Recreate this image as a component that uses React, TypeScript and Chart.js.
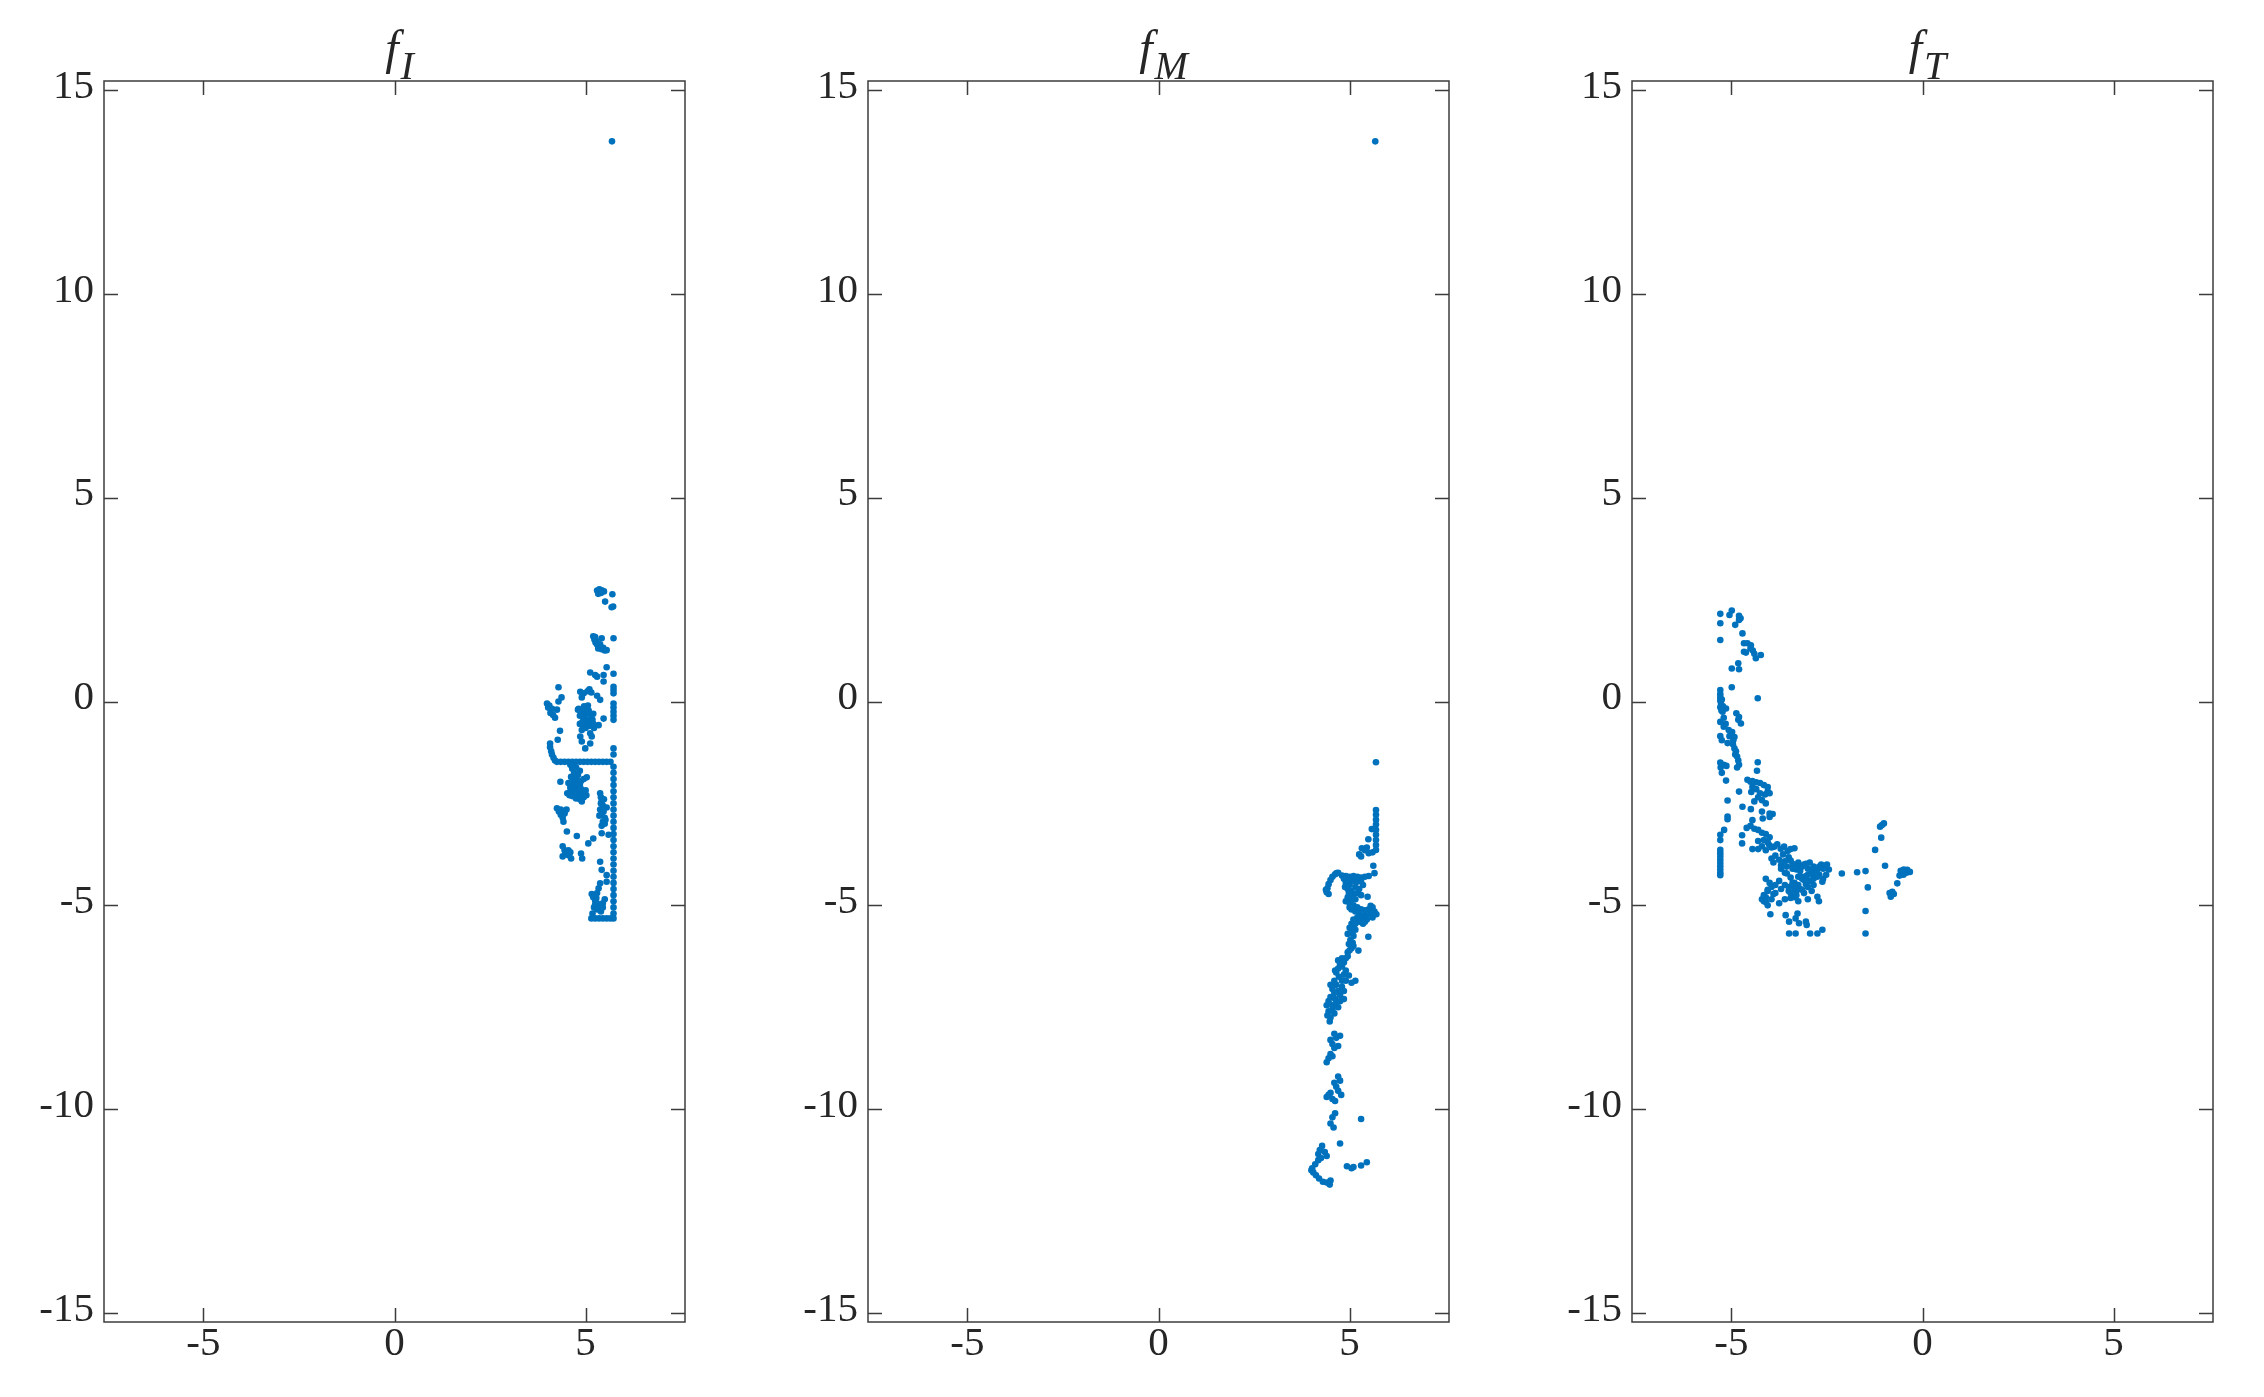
import React, { useEffect, useRef } from 'react';
import { Chart, registerables } from 'chart.js';

Chart.register(...registerables);

// ---------- data ----------
const panelTitles = ['f', 'f', 'f'];
const panelSubscripts = ['I', 'M', 'T'];
const xTickValues = [-5, 0, 5];
const yTickValues = [-15, -10, -5, 0, 5, 10, 15];
const xLimits = [-7.6, 7.6];
const yLimits = [-15.22, 15.22];

const fIPoints: [number, number][] = [
  [5.69, 13.74],
  [5.30, 2.72], [5.36, 2.75], [5.42, 2.73], [5.48, 2.70], [5.33, 2.64], [5.40, 2.66], [5.70, 2.63], [5.51, 2.45], [5.68, 2.31], [5.72, 2.33],
  [5.73, 1.55], [5.42, 1.55],
  [5.20, 1.60], [5.23, 1.52], [5.26, 1.45], [5.30, 1.40], [5.36, 1.35], [5.42, 1.28], [5.50, 1.25], [5.55, 1.26], [5.33, 1.30],
  [5.25, 1.58], [5.28, 1.48], [5.38, 1.40], [5.46, 1.32],
  [5.55, 0.84], [5.12, 0.71], [5.25, 0.65], [5.30, 0.61], [5.47, 0.65], [5.47, 0.49], [5.73, 0.68],
  [5.73, 0.36], [5.73, 0.28], [5.73, 0.20], [5.73, -0.05], [5.73, -0.15], [5.73, -0.25], [5.73, -0.35], [5.73, -0.45],
  [4.29, 0.35], [4.37, 0.10], [4.29, 0.00],
  [3.99, -0.05], [4.05, -0.10], [4.12, -0.18], [4.08, -0.28], [4.15, -0.33], [4.20, -0.40], [4.25, -0.20], [4.02, -0.15],
  [4.33, -0.72], [4.27, -0.94],
  [4.86, 0.24], [4.95, 0.20], [5.05, 0.25], [5.10, 0.30], [5.15, 0.22], [4.90, 0.10], [5.30, 0.14], [5.38, 0.04],
  [4.80, -0.20], [4.90, -0.22], [5.00, -0.25], [5.10, -0.30], [5.20, -0.30], [4.85, -0.35], [4.95, -0.40], [5.05, -0.45], [5.15, -0.40],
  [4.85, -0.55], [4.95, -0.60], [5.00, -0.65], [5.10, -0.60], [5.20, -0.55], [4.90, -0.70],
  [4.82, -0.18], [4.88, -0.28], [4.98, -0.32], [5.08, -0.22], [5.18, -0.45], [5.22, -0.65], [4.92, -0.50], [5.02, -0.55],
  [5.12, -0.50], [4.96, -0.12], [5.06, -0.10],
  [5.47, -0.42], [5.34, -0.58], [4.86, -0.86], [4.90, -0.98], [5.12, -0.78], [5.16, -0.86], [5.12, -1.03], [4.99, -1.15],
  [4.07, -1.03], [4.07, -1.12], [4.10, -1.22], [4.12, -1.30], [4.16, -1.38], [4.20, -1.45],
  [4.25, -1.48], [4.35, -1.48], [4.45, -1.48], [4.55, -1.48], [4.65, -1.48], [4.75, -1.48], [4.85, -1.48], [4.95, -1.48],
  [5.05, -1.48], [5.15, -1.48], [5.25, -1.48], [5.35, -1.48], [5.45, -1.48], [5.55, -1.48], [5.65, -1.48],
  [5.73, -1.15], [5.73, -1.30], [5.73, -1.60], [5.73, -1.75], [5.73, -1.90], [5.73, -2.05], [5.73, -2.20], [5.73, -2.35],
  [5.73, -2.50], [5.73, -2.65], [5.73, -2.80], [5.73, -2.95], [5.73, -3.10], [5.73, -3.25], [5.73, -3.40], [5.73, -3.55],
  [5.73, -3.70], [5.73, -3.85], [5.73, -4.00], [5.73, -4.15], [5.73, -4.30], [5.73, -4.45], [5.73, -4.60], [5.73, -4.75],
  [5.73, -4.90], [5.73, -5.05], [5.73, -5.20],
  [4.60, -1.55], [4.65, -1.65], [4.70, -1.75], [4.62, -1.85], [4.68, -1.95], [4.75, -2.00], [4.85, -2.05], [4.80, -1.80],
  [4.95, -1.90], [4.72, -2.10], [5.03, -1.86], [4.34, -1.97],
  [4.65, -1.58], [4.75, -1.62], [4.85, -1.70], [4.72, -1.88], [4.78, -1.95], [4.88, -1.95], [4.60, -2.05], [4.68, -2.15],
  [4.78, -2.18], [4.88, -2.15], [4.58, -2.30], [4.75, -2.38], [5.02, -2.30],
  [4.55, -2.00], [4.60, -2.12], [4.62, -2.22], [4.70, -2.25], [4.80, -2.30], [4.90, -2.25], [5.00, -2.18], [4.65, -2.32],
  [4.52, -2.25], [4.85, -2.40], [4.95, -2.35], [4.90, -2.45],
  [5.38, -2.25], [5.40, -2.35], [5.42, -2.45], [5.45, -2.55], [5.38, -2.65], [5.42, -2.75], [5.50, -2.85], [5.45, -2.95],
  [5.42, -3.05], [5.55, -2.60], [5.52, -2.90], [5.48, -2.40], [5.40, -2.50], [5.47, -2.70], [5.36, -2.80], [5.50, -3.00],
  [5.42, -3.23], [5.60, -3.27],
  [4.25, -2.62], [4.30, -2.70], [4.35, -2.78], [4.40, -2.85], [4.45, -2.75], [4.50, -2.65], [4.42, -2.95], [4.45, -2.70], [4.35, -2.65],
  [4.51, -3.19], [4.77, -3.30], [5.07, -3.48], [5.20, -3.36],
  [4.40, -3.55], [4.45, -3.65], [4.50, -3.75], [4.55, -3.65], [4.60, -3.70], [4.40, -3.80], [4.62, -3.85], [4.47, -3.70], [4.57, -3.78],
  [4.88, -3.73], [4.91, -3.85],
  [5.38, -3.93], [5.42, -4.13], [5.55, -4.26], [5.55, -4.42], [5.38, -4.46], [5.34, -4.58], [5.30, -4.70],
  [5.16, -4.72], [5.20, -4.80], [5.25, -4.88], [5.30, -4.95], [5.35, -5.00], [5.45, -4.95], [5.50, -4.85], [5.22, -5.05],
  [5.30, -5.10], [5.40, -5.15], [5.18, -5.20], [5.25, -4.98], [5.35, -5.08], [5.45, -5.05], [5.28, -4.82],
  [5.15, -5.32], [5.25, -5.32], [5.35, -5.32], [5.45, -5.32], [5.55, -5.32], [5.65, -5.32], [5.73, -5.32],
];

const fMPoints: [number, number][] = [
  [5.67, 13.74],
  [5.69, -1.49],
  [5.69, -2.66], [5.69, -2.78], [5.69, -2.90], [5.69, -3.02], [5.69, -3.15], [5.69, -3.27], [5.69, -3.40], [5.69, -3.52], [5.69, -3.64],
  [5.58, -3.13], [5.49, -3.38],
  [5.32, -3.60], [5.40, -3.65], [5.50, -3.72], [5.60, -3.70], [5.25, -3.75], [5.30, -3.80], [5.45, -3.58],
  [5.62, -4.03], [5.65, -4.21],
  [4.70, -4.20], [4.62, -4.24], [4.55, -4.30], [4.50, -4.38], [4.45, -4.48], [4.42, -4.58], [4.40, -4.68], [4.45, -4.72],
  [4.66, -4.21], [4.38, -4.62],
  [4.80, -4.27], [4.90, -4.28], [5.00, -4.30], [5.10, -4.28], [5.20, -4.30], [5.30, -4.32], [5.40, -4.30], [5.50, -4.28],
  [4.90, -4.45], [5.00, -4.50], [5.05, -4.40], [4.95, -4.60], [5.05, -4.65], [5.15, -4.55], [5.25, -4.60], [5.35, -4.50],
  [4.85, -4.35], [4.95, -4.38], [5.10, -4.40], [5.20, -4.42], [5.30, -4.40], [4.88, -4.55], [4.98, -4.70], [5.10, -4.72],
  [5.20, -4.70], [5.30, -4.75], [5.15, -4.85], [4.90, -4.90],
  [5.47, -4.79], [4.95, -4.80], [5.05, -4.85], [5.00, -4.95], [5.10, -5.00], [5.55, -5.01],
  [5.05, -5.10], [5.15, -5.15], [5.25, -5.20], [5.35, -5.25], [5.45, -5.25], [5.55, -5.20], [5.65, -5.15], [5.70, -5.22],
  [5.20, -5.30], [5.30, -5.35], [5.40, -5.40], [5.10, -5.35],
  [5.00, -5.05], [5.20, -5.05], [5.30, -5.10], [5.40, -5.12], [5.50, -5.10], [5.60, -5.05], [5.25, -5.40], [5.35, -5.45],
  [5.15, -5.45], [5.45, -5.35], [5.60, -5.30],
  [5.49, -5.77],
  [5.05, -5.45], [5.00, -5.55], [4.95, -5.70], [5.02, -5.85], [4.98, -5.95], [5.05, -6.05], [4.95, -6.15], [4.90, -6.30],
  [4.85, -6.40], [4.80, -6.50], [5.10, -5.75], [5.15, -5.60],
  [5.10, -5.50], [5.05, -5.65], [5.08, -5.92], [5.00, -6.10], [5.10, -6.00], [4.95, -6.25],
  [5.23, -6.11],
  [4.75, -6.45], [4.70, -6.55], [4.65, -6.65], [4.72, -6.75], [4.85, -6.70], [4.90, -6.60], [4.98, -6.72], [4.60, -6.85],
  [4.70, -6.35], [4.80, -6.30], [4.62, -6.60], [4.80, -6.85], [4.90, -6.85], [5.05, -6.90], [5.15, -6.85], [4.65, -6.95],
  [4.75, -7.20], [4.85, -7.10],
  [4.50, -6.95], [4.55, -7.05], [4.60, -7.15], [4.70, -7.10], [4.80, -7.00], [4.50, -7.25], [4.45, -7.35], [4.55, -7.45],
  [4.65, -7.40], [4.75, -7.35], [4.45, -7.60], [4.50, -7.75], [4.60, -7.65], [4.70, -7.50], [4.85, -7.30],
  [4.40, -7.45], [4.42, -7.70], [4.55, -7.55], [4.62, -7.30], [4.48, -7.85],
  [4.60, -8.15], [4.65, -8.25], [4.75, -8.20], [4.55, -8.40], [4.60, -8.50], [4.70, -8.45], [4.50, -8.65], [4.45, -8.75], [4.55, -8.70],
  [4.50, -8.30], [4.40, -8.85],
  [4.70, -9.20], [4.75, -9.30], [4.65, -9.45], [4.70, -9.55], [4.50, -9.60], [4.45, -9.65], [4.55, -9.75], [4.62, -9.80], [4.78, -9.65],
  [4.60, -9.35], [4.40, -9.70],
  [5.30, -10.24],
  [4.62, -10.10], [4.55, -10.20], [4.50, -10.35], [4.58, -10.45],
  [4.75, -10.84],
  [4.28, -10.90], [4.22, -11.00], [4.18, -11.10], [4.25, -11.20], [4.35, -11.05], [4.40, -11.15], [4.18, -11.25], [4.10, -11.35],
  [4.00, -11.50], [4.02, -11.45], [4.05, -11.55], [4.12, -11.62], [4.20, -11.70], [4.30, -11.78], [4.40, -11.80], [4.50, -11.75], [4.48, -11.85],
  [4.93, -11.40], [5.05, -11.45], [5.10, -11.42], [5.30, -11.38], [5.45, -11.30],
];

const fTPoints: [number, number][] = [
  [-5.29, 2.15], [-4.99, 2.23], [-5.05, 2.12], [-4.80, 2.10], [-4.76, 2.04], [-4.80, 2.00],
  [-5.29, 1.92], [-4.90, 1.88], [-4.71, 1.67], [-5.29, 1.51],
  [-4.67, 1.43], [-4.58, 1.43], [-4.49, 1.38], [-4.50, 1.30], [-4.44, 1.25], [-4.40, 1.17], [-4.62, 1.20], [-4.67, 1.22],
  [-4.36, 1.06], [-4.23, 1.14],
  [-4.82, 0.94], [-4.99, 0.81], [-4.80, 0.79],
  [-5.29, 0.28], [-4.99, 0.35], [-4.31, 0.08],
  [-5.29, 0.18], [-5.29, 0.10], [-5.29, 0.02], [-5.27, -0.06], [-5.29, -0.14], [-5.26, -0.22], [-5.23, -0.25], [-5.14, -0.17],
  [-5.25, 0.05], [-5.22, -0.12],
  [-4.87, -0.29], [-4.80, -0.38], [-4.75, -0.54], [-4.82, -0.45],
  [-5.29, -0.50], [-5.20, -0.62], [-5.07, -0.70], [-4.98, -0.75], [-4.92, -0.87], [-5.29, -0.85], [-5.25, -0.95], [-5.10, -1.02],
  [-4.96, -1.05], [-4.92, -1.15], [-4.88, -1.22], [-5.20, -0.40], [-5.15, -0.55], [-5.05, -0.85], [-4.95, -0.95], [-4.90, -1.30],
  [-5.29, -1.50], [-5.28, -1.62], [-5.20, -1.55], [-5.13, -1.58], [-5.25, -1.75],
  [-4.85, -1.35], [-4.82, -1.45], [-4.80, -1.55], [-4.85, -1.62],
  [-4.31, -1.49], [-4.33, -1.70], [-5.14, -1.94],
  [-4.58, -1.92], [-4.50, -1.97], [-4.45, -1.95], [-4.35, -1.98], [-4.25, -2.00], [-4.15, -2.05], [-4.05, -2.10], [-4.35, -2.15],
  [-4.25, -2.25], [-4.12, -2.28], [-4.05, -2.20], [-4.30, -2.35], [-4.20, -2.42], [-4.10, -2.50], [-4.00, -2.25], [-4.45, -2.10],
  [-4.40, -2.45], [-4.48, -2.22],
  [-4.80, -2.21], [-5.10, -2.43], [-4.71, -2.58], [-4.49, -2.64],
  [-5.10, -2.82], [-5.10, -2.89], [-4.45, -2.91], [-4.18, -2.87], [-4.00, -2.83], [-3.92, -2.76], [-4.20, -2.70], [-4.00, -2.75],
  [-5.29, -3.27], [-5.29, -3.40], [-5.19, -3.15],
  [-4.60, -3.10], [-4.50, -3.05], [-4.40, -3.12], [-4.30, -3.15], [-4.20, -3.22], [-4.10, -3.25], [-4.15, -3.40], [-4.30, -3.42],
  [-4.05, -3.45], [-4.00, -3.33],
  [-4.72, -3.28], [-4.72, -3.48],
  [-4.45, -3.62], [-4.30, -3.62], [-4.20, -3.55], [-4.10, -3.65], [-3.95, -3.58], [-4.01, -3.52],
  [-5.29, -3.64], [-5.29, -3.72], [-5.29, -3.80], [-5.29, -3.88], [-5.29, -3.96], [-5.29, -4.04], [-5.29, -4.12], [-5.29, -4.20], [-5.29, -4.26],
  [-3.88, -3.56], [-3.80, -3.50], [-3.71, -3.61], [-3.62, -3.56], [-3.53, -3.67], [-3.45, -3.62], [-3.35, -3.60],
  [-3.95, -3.85], [-3.85, -3.78], [-3.75, -3.88], [-3.65, -3.75], [-3.60, -3.92], [-3.50, -3.82], [-3.40, -3.98], [-3.30, -4.12],
  [-3.90, -3.95], [-3.70, -4.02], [-3.55, -4.05], [-3.45, -3.90], [-3.40, -4.10], [-3.30, -4.02], [-3.20, -4.15],
  [-3.25, -3.95], [-3.15, -4.05], [-3.05, -3.98], [-2.95, -3.95], [-2.85, -4.05], [-2.75, -4.12], [-2.65, -4.00], [-2.55, -4.05],
  [-2.45, -4.12], [-2.70, -4.25], [-2.85, -4.28], [-3.00, -4.25], [-3.10, -4.38], [-3.20, -4.28], [-2.62, -4.42], [-2.52, -4.25],
  [-3.10, -4.00], [-3.00, -4.10], [-2.90, -4.15], [-2.80, -4.20], [-2.70, -4.05], [-2.60, -4.10], [-2.50, -4.00],
  [-3.25, -4.30], [-3.15, -4.35], [-3.05, -4.28], [-2.95, -4.40], [-2.85, -4.35], [-2.75, -4.30], [-3.60, -4.20], [-3.70, -4.10],
  [-3.35, -4.45], [-2.60, -4.35],
  [-4.10, -4.35], [-4.00, -4.45], [-3.95, -4.55], [-4.05, -4.62], [-4.15, -4.75], [-4.20, -4.85], [-4.10, -4.92], [-3.90, -4.72],
  [-3.85, -4.50], [-3.75, -4.40],
  [-3.55, -4.22], [-3.45, -4.32], [-3.40, -4.45], [-3.35, -4.60], [-3.30, -4.75], [-3.45, -4.82], [-3.50, -4.65], [-3.25, -4.50],
  [-3.15, -4.62], [-3.05, -4.48],
  [-2.11, -4.22], [-1.71, -4.19], [-1.49, -4.16], [-1.43, -4.56], [-1.49, -5.14], [-1.49, -5.69],
  [-1.01, -2.99], [-1.06, -3.03], [-1.11, -3.07], [-1.08, -3.34], [-1.24, -3.64], [-0.98, -4.03],
  [-0.66, -4.46], [-0.79, -4.67], [-0.83, -4.79], [-0.75, -4.72], [-0.86, -4.70],
  [-0.57, -4.15], [-0.49, -4.12], [-0.40, -4.13], [-0.33, -4.18], [-0.50, -4.25], [-0.60, -4.27], [-0.42, -4.20],
  [-4.05, -4.65], [-4.10, -4.80], [-4.15, -4.90], [-4.05, -5.00], [-3.95, -4.85], [-3.85, -4.70], [-3.70, -4.60], [-3.60, -4.50],
  [-3.50, -4.55], [-3.45, -4.70], [-3.60, -4.85], [-3.75, -4.95], [-3.35, -4.80], [-3.25, -4.90], [-3.30, -4.65],
  [-3.40, -4.50], [-3.20, -4.60], [-3.10, -4.70], [-3.00, -4.55], [-2.90, -4.65], [-2.85, -4.50], [-3.00, -4.85],
  [-2.75, -4.79], [-2.71, -4.90],
  [-3.98, -5.22], [-3.58, -5.24], [-3.49, -5.40], [-3.27, -5.20], [-3.32, -5.32], [-3.23, -5.44], [-3.05, -5.40], [-3.03, -5.48],
  [-3.49, -5.69], [-3.32, -5.69], [-2.94, -5.69], [-2.75, -5.69], [-2.62, -5.60],
];

const panelData = [fIPoints, fMPoints, fTPoints];

// ---------- style ----------
const FONT = "'Liberation Serif', 'Times New Roman', serif";
const TEXT = '#262626';
const AXIS = '#3c3c3c';
const DOT = '#0072BD';
const CANVAS_W = 764;
const CANVAS_H = 1397;
const TICK_LEN = 14;

function makeFramePlugin(main: string, sub: string) {
  return {
    id: 'matlabFrame',
    beforeDatasetsDraw(chart: any) {
      const { ctx, chartArea, scales } = chart;
      const { left, right, top, bottom } = chartArea;
      const xs = scales.x;
      const ys = scales.y;
      ctx.save();
      ctx.strokeStyle = AXIS;
      ctx.lineWidth = 1.5;
      ctx.strokeRect(left, top, right - left, bottom - top);
      ctx.beginPath();
      xs.ticks.forEach((t: any) => {
        const px = Math.round(xs.getPixelForValue(t.value)) + 0.5;
        ctx.moveTo(px, bottom);
        ctx.lineTo(px, bottom - TICK_LEN);
        ctx.moveTo(px, top);
        ctx.lineTo(px, top + TICK_LEN);
      });
      ys.ticks.forEach((t: any) => {
        const py = Math.round(ys.getPixelForValue(t.value)) + 0.5;
        ctx.moveTo(left, py);
        ctx.lineTo(left + TICK_LEN, py);
        ctx.moveTo(right, py);
        ctx.lineTo(right - TICK_LEN, py);
      });
      ctx.stroke();
      ctx.restore();
    },
    afterDraw(chart: any) {
      const { ctx, chartArea } = chart;
      const cx = (chartArea.left + chartArea.right) / 2;
      ctx.save();
      ctx.fillStyle = TEXT;
      ctx.textAlign = 'left';
      ctx.textBaseline = 'alphabetic';
      const mainFont = `italic 48px ${FONT}`;
      const subFont = `italic 40px ${FONT}`;
      ctx.font = mainFont;
      const w1 = ctx.measureText(main).width;
      ctx.font = subFont;
      const w2 = ctx.measureText(sub).width;
      const start = cx - (w1 + w2) / 2 + 4;
      ctx.font = mainFont;
      ctx.fillText(main, start, 64);
      ctx.font = subFont;
      ctx.fillText(sub, start + w1 + 2, 79);
      ctx.restore();
    },
  };
}

function Panel({ index }: { index: number }) {
  const ref = useRef<HTMLCanvasElement>(null);
  useEffect(() => {
    const pts = panelData[index];
    const chart = new Chart(ref.current as HTMLCanvasElement, {
      type: 'scatter',
      data: {
        datasets: [
          {
            data: pts.map(([x, y]) => ({ x, y })),
            pointRadius: 3.3,
            pointBackgroundColor: DOT,
            pointBorderWidth: 0,
            backgroundColor: DOT,
            borderColor: DOT,
          },
        ],
      },
      options: {
        responsive: false,
        animation: false,
        devicePixelRatio: 1,
        layout: { padding: { left: 0, right: 79, top: 81, bottom: 0 } },
        plugins: {
          legend: { display: false },
          tooltip: { enabled: false },
          title: { display: false },
        },
        scales: {
          x: {
            type: 'linear',
            min: xLimits[0],
            max: xLimits[1],
            grid: { display: false, drawTicks: false },
            border: { display: false },
            afterBuildTicks: (scale: any) => {
              scale.ticks = xTickValues.map((v) => ({ value: v }));
            },
            afterFit: (scale: any) => {
              scale.height = 75;
            },
            ticks: {
              color: TEXT,
              padding: 2,
              maxRotation: 0,
              font: { family: FONT, size: 41, lineHeight: 1 },
              callback: (v: any) => String(v),
            },
          },
          y: {
            type: 'linear',
            min: yLimits[0],
            max: yLimits[1],
            grid: { display: false, drawTicks: false },
            border: { display: false },
            afterBuildTicks: (scale: any) => {
              scale.ticks = yTickValues.map((v) => ({ value: v }));
            },
            afterFit: (scale: any) => {
              scale.width = 104;
            },
            ticks: {
              color: TEXT,
              padding: 10,
              labelOffset: -3,
              font: { family: FONT, size: 41, lineHeight: 1 },
              callback: (v: any) => String(v),
            },
          },
        },
      },
      plugins: [makeFramePlugin(panelTitles[index], panelSubscripts[index]) as any],
    });
    return () => chart.destroy();
  }, [index]);
  return (
    <canvas
      ref={ref}
      width={CANVAS_W}
      height={CANVAS_H}
      style={{ position: 'absolute', left: index * CANVAS_W, top: 0, width: CANVAS_W, height: CANVAS_H, display: 'block' }}
    />
  );
}

export default function App() {
  return (
    <div style={{ position: 'absolute', left: 0, top: 0, width: 2264, height: 1397, background: '#ffffff', overflow: 'hidden' }}>
      {[0, 1, 2].map((i) => (
        <Panel key={i} index={i} />
      ))}
    </div>
  );
}
